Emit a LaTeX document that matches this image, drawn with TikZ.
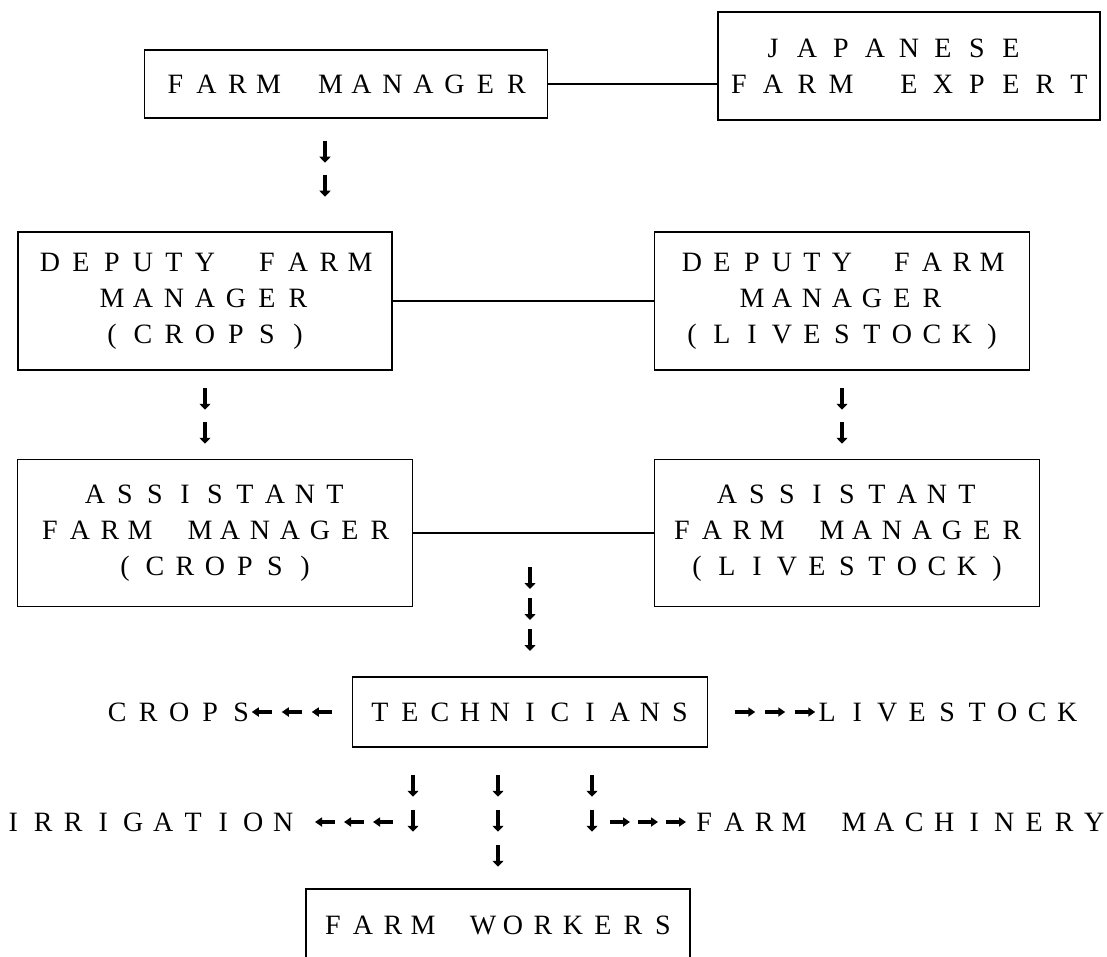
\documentclass[tikz,border=0pt]{standalone}
\usepackage{fontspec}
\setmainfont{Liberation Serif}
\usetikzlibrary{arrows.meta,decorations.markings}

% one letter per slot, as on the typewriter
\ExplSyntaxOn
\NewDocumentCommand\tw{O{30pt}m}{\str_map_inline:nn{#2}{\makebox[#1]{##1}}}
\ExplSyntaxOff

\tikzset{
  box/.style={draw, line width=1.5pt, inner sep=0pt, align=center,
    font={\fontsize{28pt}{36pt}\selectfont}},
  lbl/.style={inner sep=0pt, font={\fontsize{28pt}{36pt}\selectfont}},
  link/.style={line width=1.2pt},
  tick/.style={line width=4pt, -{Triangle[width=11pt,length=6pt]}},
  htick/.style={line width=3.4pt, -{Triangle[width=9pt,length=7pt]}},
  glyphs/.style n args={3}{decoration={markings,
    mark=between positions #1 and #2 step #3 with {\draw[tick] (-11pt,0) -- (11pt,0);}},
    decorate},
  hglyphs/.style n args={3}{decoration={markings,
    mark=between positions #1 and #2 step #3 with {\draw[htick] (-10pt,0) -- (10pt,0);}},
    decorate},
}

\begin{document}
\begin{tikzpicture}[x=1pt,y=-1pt]
    \path[use as bounding box, clip] (0,0) rectangle (1107,957);

    \node[box, minimum width=403pt, minimum height=68pt] (mgr) at (346,84) {\tw[31pt]{FARM MANAGER}};
    \node[box, align=left, minimum width=382pt, minimum height=108pt] (expert) at (909,66) {\tw[34pt]{ JAPANESE}\\\tw[34pt]{FARM EXPERT}};
    \node[box, minimum width=374pt, minimum height=138pt] (depC) at (205,301) {\tw[31pt]{DEPUTY FARM}\\\tw[31pt]{MANAGER}\\\tw[31pt]{(CROPS)}};
    \node[box, minimum width=375pt, minimum height=138pt] (depL) at (842,301) {\tw{DEPUTY FARM}\\\tw{MANAGER}\\\tw{(LIVESTOCK)}};
    \node[box, minimum width=395pt, minimum height=147pt] (asstC) at (215,533) {\tw{ASSISTANT}\\\tw{FARM MANAGER}\\\tw{(CROPS)}};
    \node[box, minimum width=385pt, minimum height=147pt] (asstL) at (847,533) {\tw{ASSISTANT}\\\tw{FARM MANAGER}\\\tw{(LIVESTOCK)}};
    \node[box, minimum width=355pt, minimum height=70pt] (tech) at (530,712) {\tw{TECHNICIANS}};
    \node[box, minimum width=384pt, text height=45pt, text depth=40pt, anchor=base] (workers) at (498,934) {\tw{FARM WORKERS}};

    \node[lbl, anchor=east] (crops) at (257,712) {\tw[31pt]{CROPS}};
    \node[lbl, anchor=west] (live) at (812,712) {\tw{LIVESTOCK}};
    \node[lbl, anchor=west] (irr) at (-2,822) {\tw{IRRIGATION}};
    \node[lbl, anchor=west] (mach) at (689,822) {\tw{FARM MACHINERY}};
    \coordinate (col1) at (413,822);
    \coordinate (col3) at (592,822);

    % plain links
    \draw[link] (mgr.east) -- (mgr.east -| expert.west);
    \draw[link] (depC) -- (depL);
    \draw[link] (asstC) -- (asstL);

    % typed arrow chains
    \path[glyphs={33pt}{68pt}{34pt}] ([xshift=-21pt]mgr.south) -- ([xshift=-21pt]mgr.south |- depC.north);
    \path[glyphs={28pt}{63pt}{34pt}] (depC.south) -- (depC.south |- asstC.north);
    \path[glyphs={28pt}{63pt}{34pt}] (depL.south) -- (depL.south |- asstL.north);
    \path[glyphs={45pt}{108pt}{31pt}] (asstC.east -| tech.north) -- (tech.north);
    \path[glyphs={38pt}{74pt}{35pt}] (tech.south -| col1) -- (col1);
    \path[glyphs={38pt}{110pt}{35pt}] (tech.south -| workers.north) -- (workers.north);
    \path[glyphs={38pt}{74pt}{35pt}] (tech.south -| col3) -- (col3);
    \path[hglyphs={30pt}{91pt}{30pt}] (tech.west) -- (crops.east);
    \path[hglyphs={37pt}{98pt}{30pt}] (tech.east) -- (live.west);
    \path[hglyphs={30pt}{90pt}{29pt}] (col1) -- (irr.east);
    \path[hglyphs={28pt}{85pt}{28pt}] (col3) -- (mach.west);
\end{tikzpicture}
\end{document}
